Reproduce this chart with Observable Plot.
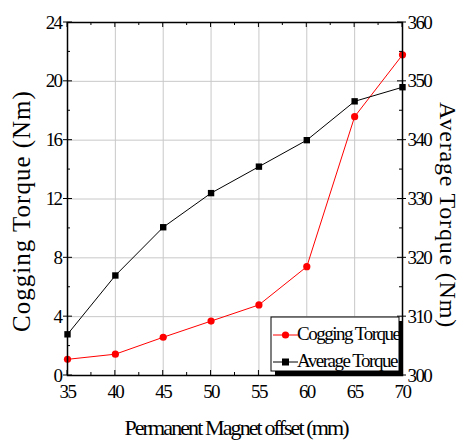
<!DOCTYPE html>
<html><head><meta charset="utf-8">
<script src="https://cdn.jsdelivr.net/npm/d3@7"></script>
<script src="https://cdn.jsdelivr.net/npm/@observablehq/plot@0.6"></script>
<style>
body{margin:0;background:#fff;}
#chart{position:relative;width:465px;height:443px;}
svg text{font-family:"Liberation Serif","DejaVu Serif",serif;}
</style></head>
<body><div id="chart"></div>
<script>
const offsets = [35, 40, 45, 50, 55, 60, 65, 70];
const coggingTorque = [1.1, 1.45, 2.6, 3.7, 4.8, 7.4, 17.6, 21.8];
const averageTorque = [307, 317, 325.2, 331, 335.5, 340, 346.6, 349];
const leftTicks = [0, 4, 8, 12, 16, 20, 24];
const rightTicks = [300, 310, 320, 330, 340, 350, 360];
const xTicks = [35, 40, 45, 50, 55, 60, 65, 70];
const seriesNames = ["Cogging Torque", "Average Torque"];

// right axis maps 300..360 onto left 0..24
const toLeft = v => (v - 300) * 0.4;

const cog = offsets.map((x, i) => ({x, y: coggingTorque[i]}));
const avg = offsets.map((x, i) => ({x, y: toLeft(averageTorque[i])}));

const fontCss = {fontFamily: "Liberation Serif", fontSize: "19px", letterSpacing: "-1.6px", color: "#000"};

const plot = Plot.plot({
  width: 465, height: 443,
  marginLeft: 67, marginRight: 63, marginTop: 22, marginBottom: 68,
  style: fontCss,
  x: {domain: [35, 70]},
  y: {domain: [0, 24]},
  marks: [
    Plot.gridX(xTicks, {stroke: "#c8c8c8", strokeOpacity: 1, strokeWidth: 1}),
    Plot.gridY(leftTicks, {stroke: "#c8c8c8", strokeOpacity: 1, strokeWidth: 1}),
    Plot.axisX({ticks: xTicks, tickSize: 0, tickPadding: 9, label: null, fontSize: 19}),
    Plot.axisY({ticks: leftTicks, tickSize: 0, tickPadding: 6, label: null, fontSize: 19}),
    Plot.axisY({anchor: "right", ticks: leftTicks, tickSize: 0, tickPadding: 5, label: null, fontSize: 19,
      tickFormat: (d, i) => String(rightTicks[i])}),
    Plot.line(cog, {x: "x", y: "y", stroke: "#ff0000", strokeWidth: 1}),
    Plot.dot(cog, {x: "x", y: "y", symbol: "circle", fill: "#ff0000", r: 3.6}),
    Plot.line(avg, {x: "x", y: "y", stroke: "#000", strokeWidth: 1}),
    Plot.dot(avg, {x: "x", y: "y", symbol: "square", fill: "#000", r: 3.6}),
    Plot.frame({stroke: "#000", strokeWidth: 1.5})
  ]
});
document.getElementById("chart").appendChild(plot);

const sx = plot.scale("x"), sy = plot.scale("y");
const svg = d3.select(plot);
const g = svg.append("g").attr("stroke", "#000").attr("stroke-width", 1);
const x0 = sx.apply(35), x1 = sx.apply(70), y0 = sy.apply(0), y1 = sy.apply(24);
for (let v = 35; v <= 70; v += 2.5) {
  const major = v % 5 === 0;
  const len = major ? 5 : 3;
  const px = sx.apply(v);
  g.append("line").attr("x1", px).attr("x2", px).attr("y1", y0).attr("y2", y0 - len);
  g.append("line").attr("x1", px).attr("x2", px).attr("y1", y1).attr("y2", y1 + len);
}
for (let v = 0; v <= 24; v += 2) {
  const major = v % 4 === 0;
  const len = major ? 5 : 3;
  const py = sy.apply(v);
  g.append("line").attr("x1", x0).attr("x2", x0 + len).attr("y1", py).attr("y2", py);
  g.append("line").attr("x1", x1).attr("x2", x1 - len).attr("y1", py).attr("y2", py);
  if (major) {
    g.append("line").attr("x1", x0).attr("x2", x0 - 4).attr("y1", py).attr("y2", py);
    g.append("line").attr("x1", x1).attr("x2", x1 + 4).attr("y1", py).attr("y2", py);
  }
}

// axis titles
const tg = svg.append("g").attr("fill", "#000").attr("text-anchor", "middle");
tg.append("text").attr("transform", `translate(30,211) rotate(-90)`).attr("font-size", 25).attr("letter-spacing", "1px").text("Cogging Torque (Nm)");
tg.append("text").attr("transform", `translate(440,215) rotate(90)`).attr("font-size", 24).attr("letter-spacing", "0.8px").text("Average Torque (Nm)");
tg.append("text").attr("x", 236).attr("y", 435).attr("font-size", 22).attr("letter-spacing", "-1.9px").text("Permanent Magnet offset (mm)");

// legend
const lg = svg.append("g").attr("text-anchor", "start");
const lx = 271, ly = 317, lw = 128, lh = 54;
lg.append("rect").attr("x", lx + 4).attr("y", ly + 4).attr("width", lw).attr("height", lh).attr("fill", "#000");
lg.append("rect").attr("x", lx).attr("y", ly).attr("width", lw).attr("height", lh).attr("fill", "#fff").attr("stroke", "#000").attr("stroke-width", 1);
const colors = ["#ff0000", "#000"];
seriesNames.forEach((name, i) => {
  const cy = ly + 18 + i * 27;
  lg.append("line").attr("x1", lx + 2).attr("x2", lx + 27).attr("y1", cy).attr("y2", cy).attr("stroke", colors[i]);
  if (i === 0) lg.append("circle").attr("cx", lx + 14.5).attr("cy", cy).attr("r", 3.6).attr("fill", colors[i]);
  else lg.append("rect").attr("x", lx + 11).attr("y", cy - 3.5).attr("width", 7).attr("height", 7).attr("fill", colors[i]);
  lg.append("text").attr("x", lx + 26).attr("y", cy + 5).attr("font-size", 19).attr("letter-spacing", "-1.5px").attr("fill", "#000").text(name);
});
</script></body></html>
